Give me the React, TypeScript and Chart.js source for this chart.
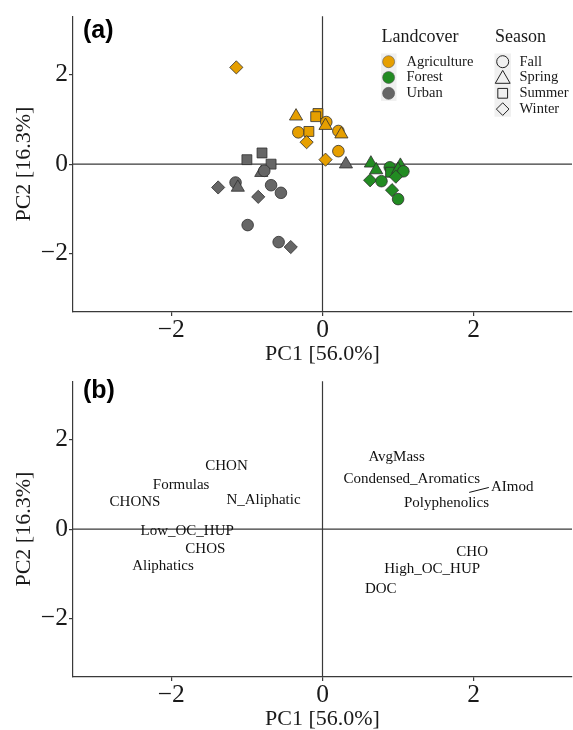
import React, { useEffect, useRef } from "react";
import { Chart, registerables } from "chart.js";

Chart.register(...registerables);

// ---------- data ----------
const landcovers = ["Agriculture", "Forest", "Urban"];
const landcoverColors = ["#E69F00", "#228B22", "#666666"];
const seasons = ["Fall", "Spring", "Summer", "Winter"];

const agricultureX = [-1.14, -0.35, -0.06, -0.09, 0.05, 0.04, 0.21, 0.25, -0.32, -0.18, -0.21, 0.21, 0.04];
const agricultureY = [2.16, 1.07, 1.13, 1.06, 0.94, 0.86, 0.74, 0.67, 0.71, 0.73, 0.49, 0.29, 0.1];
const agricultureSeason = ["Winter", "Spring", "Summer", "Summer", "Fall", "Spring", "Fall", "Spring", "Fall", "Summer", "Winter", "Fall", "Winter"];

const forestX = [0.64, 0.71, 0.63, 0.78, 0.89, 0.9, 1.03, 1.0, 1.07, 0.97, 0.92, 1.0];
const forestY = [0.02, -0.13, -0.36, -0.38, -0.07, -0.18, -0.03, -0.12, -0.16, -0.28, -0.58, -0.78];
const forestSeason = ["Spring", "Spring", "Winter", "Fall", "Fall", "Summer", "Spring", "Spring", "Fall", "Winter", "Winter", "Fall"];

const urbanX = [0.31, -0.8, -1.0, -0.68, -0.81, -0.77, -1.38, -1.15, -1.12, -0.68, -0.55, -0.85, -0.99, -0.58, -0.42];
const urbanY = [0.0, 0.25, 0.1, 0.0, -0.19, -0.15, -0.52, -0.41, -0.52, -0.47, -0.64, -0.73, -1.36, -1.74, -1.85];
const urbanSeason = ["Spring", "Summer", "Summer", "Summer", "Spring", "Fall", "Winter", "Fall", "Spring", "Fall", "Fall", "Winter", "Fall", "Fall", "Winter"];

const variableNames = ["CHON", "Formulas", "CHONS", "N_Aliphatic", "Low_OC_HUP", "CHOS", "Aliphatics", "AvgMass", "Condensed_Aromatics", "AImod", "Polyphenolics", "CHO", "High_OC_HUP", "DOC"];
const variableX = [-1.27, -1.87, -2.48, -0.78, -1.79, -1.55, -2.11, 0.98, 1.18, 2.51, 1.64, 1.98, 1.45, 0.77];
const variableY = [1.4, 0.98, 0.6, 0.64, -0.04, -0.44, -0.83, 1.61, 1.11, 0.95, 0.58, -0.52, -0.88, -1.34];
const aimodSegmentX = [1.94, 2.2];
const aimodSegmentY = [0.82, 0.93];

const xTicks = [-2, 0, 2];
const yTicks = [-2, 0, 2];
const axisMin = -3.3;
const axisMax = 3.3;
const xTitle = "PC1 [56.0%]";
const yTitle = "PC2 [16.3%]";

// ---------- styles ----------
const SERIF = "'Liberation Serif', 'DejaVu Serif', serif";
const SANS = "'Liberation Sans', Arial, sans-serif";
const AXIS_COLOR = "#3a3a3a";
const TEXT_COLOR = "#1a1a1a";

const shapeStyle: Record<string, string> = { Fall: "circle", Spring: "triangle", Summer: "rect", Winter: "rectRot" };
const shapeRadius: Record<string, number> = { Fall: 5.8, Spring: 7.6, Summer: 7.0, Winter: 6.6 };

const fmtTick = (v: number) => (v < 0 ? "\u2212" + Math.abs(v) : String(v));

function makeScale(isX: boolean): any {
  return {
    type: "linear",
    min: axisMin,
    max: axisMax,
    afterBuildTicks: (scale: any) => {
      scale.ticks = (isX ? xTicks : yTicks).map((v) => ({ value: v }));
    },
    afterFit: (scale: any) => {
      if (isX) scale.height = 53;
      else scale.width = 73;
    },
    grid: { display: true, drawOnChartArea: false, drawTicks: true, tickLength: 4, color: AXIS_COLOR, lineWidth: 1.2 },
    border: { display: true, color: AXIS_COLOR, width: 1.2 },
    ticks: {
      font: { family: SERIF, size: 25.5 },
      color: TEXT_COLOR,
      padding: isX ? -1.5 : 1,
      callback: (v: any) => fmtTick(Number(v)),
    },
    title: {
      display: true,
      text: isX ? xTitle : yTitle,
      font: { family: SERIF, size: 22, lineHeight: 1 },
      color: TEXT_COLOR,
      padding: isX ? { top: 0, bottom: 0 } : { top: 13, bottom: 0 },
    },
  };
}

const zeroLines = {
  id: "zeroLines",
  beforeDatasetsDraw(chart: any) {
    const { ctx, chartArea, scales } = chart;
    const x0 = scales.x.getPixelForValue(0);
    const y0 = scales.y.getPixelForValue(0);
    ctx.save();
    ctx.strokeStyle = AXIS_COLOR;
    ctx.lineWidth = 1.2;
    ctx.beginPath();
    ctx.moveTo(x0, chartArea.top);
    ctx.lineTo(x0, chartArea.bottom);
    ctx.moveTo(chartArea.left, y0);
    ctx.lineTo(chartArea.right, y0);
    ctx.stroke();
    ctx.restore();
  },
};

function panelTag(text: string, y: number) {
  return {
    id: "panelTag" + text,
    afterDraw(chart: any) {
      const { ctx } = chart;
      ctx.save();
      ctx.font = `bold 25px ${SANS}`;
      ctx.fillStyle = "#000";
      ctx.textAlign = "left";
      ctx.textBaseline = "middle";
      ctx.fillText(text, 83, y);
      ctx.restore();
    },
  };
}

function drawShape(ctx: CanvasRenderingContext2D, shape: string, x: number, y: number, r: number) {
  ctx.beginPath();
  if (shape === "circle") {
    ctx.arc(x, y, r, 0, Math.PI * 2);
  } else if (shape === "triangle") {
    ctx.moveTo(x, y - r);
    ctx.lineTo(x + r * Math.sin((2 * Math.PI) / 3), y + r / 2);
    ctx.lineTo(x - r * Math.sin((2 * Math.PI) / 3), y + r / 2);
    ctx.closePath();
  } else if (shape === "rect") {
    const s = r * Math.SQRT1_2;
    ctx.rect(x - s, y - s, 2 * s, 2 * s);
  } else {
    ctx.moveTo(x - r, y);
    ctx.lineTo(x, y - r);
    ctx.lineTo(x + r, y);
    ctx.lineTo(x, y + r);
    ctx.closePath();
  }
}

const legendPlugin = {
  id: "customLegend",
  afterDraw(chart: any) {
    const { ctx } = chart;
    ctx.save();
    ctx.textAlign = "left";
    ctx.textBaseline = "middle";
    ctx.fillStyle = TEXT_COLOR;
    ctx.font = `18px ${SERIF}`;
    ctx.fillText("Landcover", 381.5, 37);
    ctx.fillText("Season", 495, 37);

    const rowH = 15.8;
    const firstY = 61.7;
    ctx.fillStyle = "#f0f0f0";
    ctx.fillRect(381, firstY - 8.2, 15.5, rowH * landcovers.length);
    ctx.fillRect(494.5, firstY - 8.2, 16.5, rowH * seasons.length);

    landcovers.forEach((name, i) => {
      const cy = firstY + i * rowH;
      drawShape(ctx, "circle", 388.6, cy, 6);
      ctx.fillStyle = landcoverColors[i];
      ctx.fill();
      ctx.lineWidth = 0.6;
      ctx.strokeStyle = "#555";
      ctx.stroke();
      ctx.fillStyle = TEXT_COLOR;
      ctx.font = `14.5px ${SERIF}`;
      ctx.fillText(name, 406.5, cy);
    });

    const legendR: Record<string, number> = { Fall: 6, Spring: 8.6, Summer: 6.9, Winter: 6.3 };
    seasons.forEach((name, i) => {
      const cy = firstY + i * rowH;
      const shape = shapeStyle[name];
      drawShape(ctx, shape, 502.7, shape === "triangle" ? cy + 1.5 : cy, legendR[name]);
      ctx.lineWidth = 1;
      ctx.strokeStyle = "#222";
      ctx.stroke();
      ctx.fillStyle = TEXT_COLOR;
      ctx.font = `14.5px ${SERIF}`;
      ctx.fillText(name, 519.5, cy);
    });
    ctx.restore();
  },
};

const varLabels = {
  id: "varLabels",
  afterDatasetsDraw(chart: any) {
    const { ctx } = chart;
    const meta = chart.getDatasetMeta(0);
    ctx.save();
    ctx.font = `15px ${SERIF}`;
    ctx.fillStyle = "#111";
    ctx.textAlign = "center";
    ctx.textBaseline = "middle";
    meta.data.forEach((el: any, i: number) => {
      ctx.fillText(variableNames[i], el.x, el.y);
    });
    ctx.restore();
  },
};

function buildScatterDatasets() {
  const groups = [
    { x: agricultureX, y: agricultureY, s: agricultureSeason },
    { x: forestX, y: forestY, s: forestSeason },
    { x: urbanX, y: urbanY, s: urbanSeason },
  ];
  return groups.map((g, gi) => ({
    label: landcovers[gi],
    data: g.x.map((x, i) => ({ x, y: g.y[i] })),
    pointStyle: g.s.map((s) => shapeStyle[s]),
    pointRadius: g.s.map((s) => shapeRadius[s]),
    pointHoverRadius: g.s.map((s) => shapeRadius[s]),
    backgroundColor: landcoverColors[gi],
    borderColor: "#2e2e2e",
    borderWidth: 0.8,
  }));
}

function commonOptions(): any {
  return {
    responsive: false,
    animation: false,
    events: [],
    layout: { autoPadding: false, padding: { top: 13, right: 1, left: 0, bottom: 0 } },
    plugins: { legend: { display: false }, tooltip: { enabled: false } },
    scales: { x: makeScale(true), y: makeScale(false) },
  };
}

export default function App() {
  const topRef = useRef<HTMLCanvasElement | null>(null);
  const bottomRef = useRef<HTMLCanvasElement | null>(null);

  useEffect(() => {
    document.body.style.margin = "0";
    const top = new Chart(topRef.current as HTMLCanvasElement, {
      type: "scatter",
      data: { datasets: buildScatterDatasets() as any },
      options: commonOptions(),
      plugins: [zeroLines, legendPlugin, panelTag("(a)", 31.5)],
    });
    const bottom = new Chart(bottomRef.current as HTMLCanvasElement, {
      type: "scatter",
      data: {
        datasets: [
          {
            label: "variables",
            data: variableX.map((x, i) => ({ x, y: variableY[i] })),
            pointRadius: 0,
            pointHoverRadius: 0,
          },
          {
            label: "AImod segment",
            data: aimodSegmentX.map((x, i) => ({ x, y: aimodSegmentY[i] })),
            showLine: true,
            pointRadius: 0,
            borderColor: "#111",
            borderWidth: 1,
          },
        ] as any,
      },
      options: commonOptions(),
      plugins: [zeroLines, varLabels, panelTag("(b)", 26)],
    });
    return () => {
      top.destroy();
      bottom.destroy();
    };
  }, []);

  return (
    <div style={{ width: 573, height: 730 }}>
      <canvas ref={topRef} width={573} height={365} style={{ display: "block", width: 573, height: 365 }} />
      <canvas ref={bottomRef} width={573} height={365} style={{ display: "block", width: 573, height: 365 }} />
    </div>
  );
}
